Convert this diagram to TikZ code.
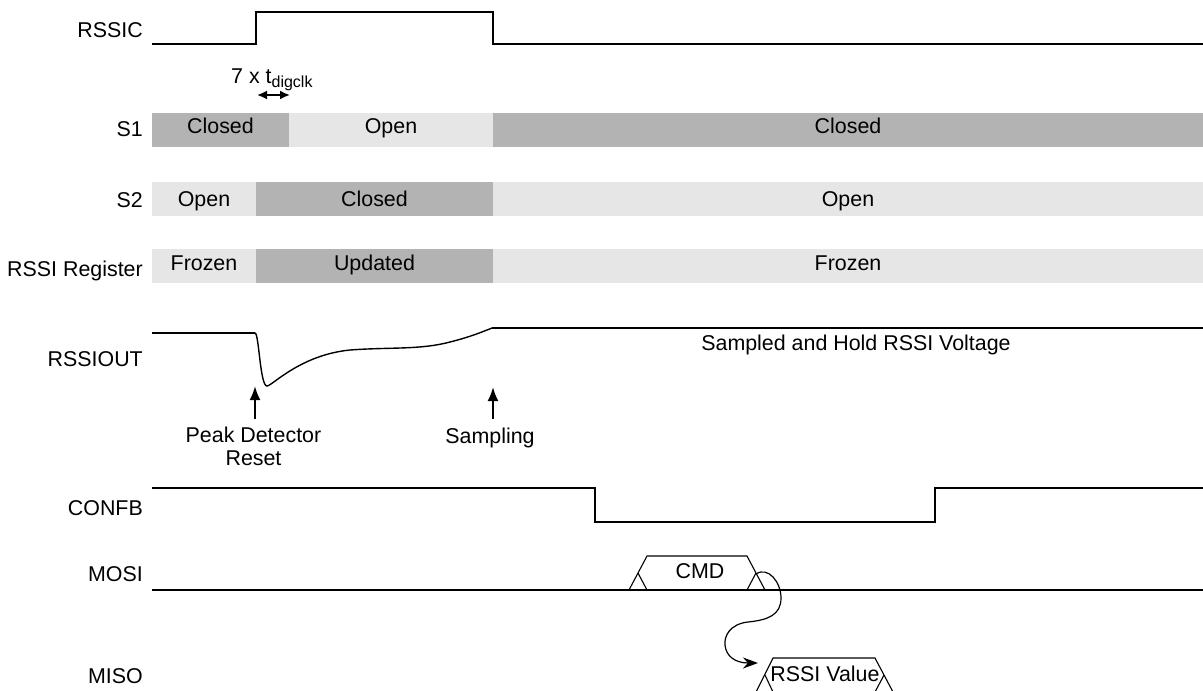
\documentclass[tikz,border=0pt]{standalone}
\usepackage{fontspec}
\setmainfont{Liberation Sans}
\usetikzlibrary{arrows.meta}
\definecolor{bardark}{HTML}{B3B3B3}
\definecolor{barlight}{HTML}{E6E6E6}
\newcommand\figfont{\fontsize{21.4}{25}\selectfont}
\begin{document}
\begin{tikzpicture}[x=1pt,y=-1pt,
  sig/.style={line width=2.6pt, line join=miter},
  thinline/.style={line width=1.1pt, line join=miter},
  curve/.style={line width=1.4pt},
  lbl/.style={anchor=base east, inner sep=0pt, font=\figfont},
  txt/.style={anchor=base, inner sep=0pt, font=\figfont},
  uparrow/.style={line width=2.2pt, -{Latex[length=14pt,width=11pt]}},
]
\useasboundingbox (0,0) rectangle (1203,691);
\clip (0,0) rectangle (1203,691);

% row labels
\node[lbl] (lRSSIC) at (143,37.5) {RSSIC};
\node[lbl] (lS1) at (143,136.5) {S1};
\node[lbl] (lS2) at (143,207.5) {S2};
\node[lbl] (lReg) at (143,276.5) {RSSI Register};
\node[lbl] (lOut) at (143,366.5) {RSSIOUT};
\node[lbl] (lConfb) at (143,515) {CONFB};
\node[lbl] (lMosi) at (143,581.5) {MOSI};
\node[lbl] (lMiso) at (143,683.5) {MISO};

% RSSIC
\draw[sig] (152,44) -- (256,44) -- (256,12) -- (493,12) -- (493,44) -- (1204,44);

% 7 x tdigclk
\node[anchor=base west, inner sep=0pt, font=\figfont] (tdig) at (231,83)
  {7 x t\raisebox{-4pt}{\fontsize{16}{16}\selectfont digclk}};
\coordinate (dA) at (257,95);
\coordinate (dB) at (290,95);
\draw[line width=1.8pt, {Latex[length=10pt,width=9pt]}-{Latex[length=10pt,width=9pt]}] (dA) -- (dB);

% S1
\fill[bardark]  (152,113) rectangle (289,147);
\fill[barlight] (289,113) rectangle (493,147);
\fill[bardark]  (493,113) rectangle (1204,147);
\node[txt] (s1a) at (220.5,133.5) {Closed};
\node[txt] (s1b) at (391,133.5) {Open};
\node[txt] (s1c) at (848,133.5) {Closed};

% S2
\fill[barlight] (152,181.5) rectangle (256,215.5);
\fill[bardark]  (256,181.5) rectangle (493,215.5);
\fill[barlight] (493,181.5) rectangle (1204,215.5);
\node[txt] (s2a) at (204,206) {Open};
\node[txt] (s2b) at (374.5,206) {Closed};
\node[txt] (s2c) at (848,206) {Open};

% RSSI Register
\fill[barlight] (152,249.3) rectangle (256,282.7);
\fill[bardark]  (256,249.3) rectangle (493,282.7);
\fill[barlight] (493,249.3) rectangle (1204,282.7);
\node[txt] (ra) at (204,270.5) {Frozen};
\node[txt] (rb) at (374.5,270.5) {Updated};
\node[txt] (rc) at (848,270.5) {Frozen};

% RSSIOUT
\draw[sig] (152,333) -- (255,333);
\draw[curve] (255,333) .. controls (259,333) and (260,386) .. (267,386)
  .. controls (272,386) and (300,355) .. (350,350)
  .. controls (390,347) and (420,350) .. (450,342)
  .. controls (470,337) and (482,332) .. (492,328);
\draw[sig] (492,328) -- (1204,328);
\node[txt] (shold) at (856,350.5) {Sampled and Hold RSSI Voltage};

% event arrows
\coordinate (pk0) at (255,419);
\coordinate (pk1) at (255,386);
\draw[uparrow] (pk0) -- (pk1);
\coordinate (sm0) at (493,419);
\coordinate (sm1) at (493,387);
\draw[uparrow] (sm0) -- (sm1);
\node[txt] (peak) at (253.5,442) {Peak Detector};
\node[txt] (reset) at (253.5,465.5) {Reset};
\node[txt] (samp) at (490,443) {Sampling};

% CONFB
\draw[sig] (152,488) -- (595,488) -- (595,522) -- (935,522) -- (935,488) -- (1204,488);

% MOSI
\draw[sig] (152,590) -- (1204,590);
\draw[thinline] (629,590) -- (647,556) -- (747,556) -- (765,590);
\draw[thinline] (638,573) -- (647,590);
\draw[thinline] (756,573) -- (747,590);
\node[txt] (cmd) at (700,578) {CMD};

% MISO
\draw[thinline] (756,692) -- (773,658) -- (875,658) -- (893,692);
\draw[thinline] (765,675) -- (773,692);
\draw[thinline] (884,675) -- (875,692);
\node[txt] (rval) at (825,681) {RSSI Value};

% curved arrow CMD -> RSSI Value
\coordinate (cmdR) at (756,574);
\coordinate (rvalL) at (758,663);
\draw[line width=1.2pt, -{Stealth[length=15pt,width=11pt]}] (cmdR)
  .. controls (768,566) and (781,582) .. (781,598)
  .. controls (781,615) and (768,620) .. (748,622)
  .. controls (730,624) and (724,636) .. (725,645)
  .. controls (726,656) and (735,663) .. (rvalL);
\end{tikzpicture}
\end{document}
